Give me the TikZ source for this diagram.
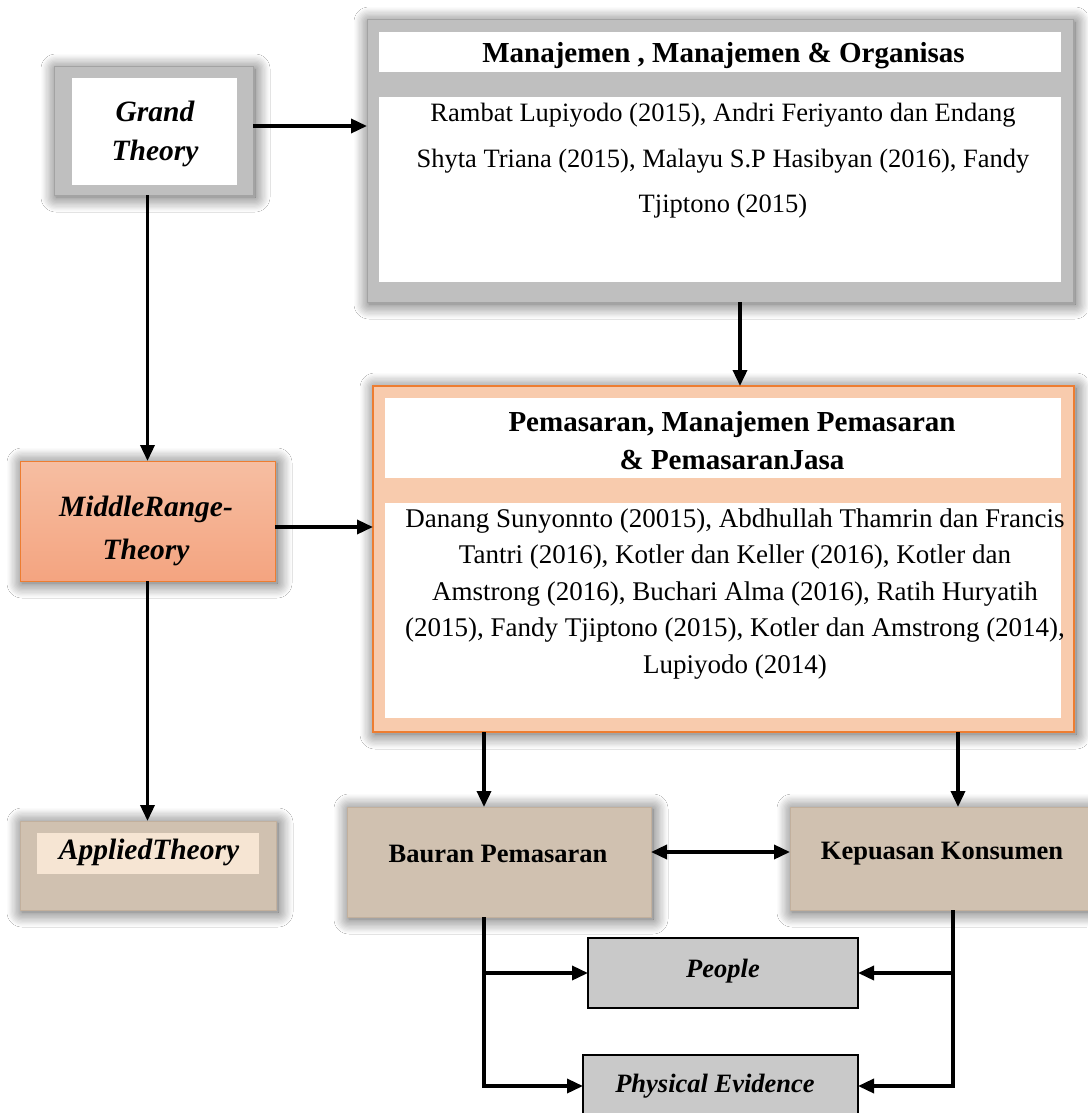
\documentclass[tikz,border=0pt]{standalone}
\usepackage{fontspec}
\setmainfont{Liberation Serif}
\usetikzlibrary{arrows.meta,shadows.blur,calc}
\definecolor{frame}{HTML}{BFBFBF}
\definecolor{framedraw}{HTML}{A3A3A3}
\definecolor{orfill}{HTML}{F8CBAD}
\definecolor{ordraw}{HTML}{ED7D31}
\definecolor{mrtop}{HTML}{F6BEA2}
\definecolor{mrbot}{HTML}{F4A480}
\definecolor{tan}{HTML}{D0C1B0}
\definecolor{tandraw}{HTML}{C2B09D}
\definecolor{cream}{HTML}{F6E5D3}
\definecolor{pgray}{HTML}{C9C9C9}
\begin{document}
\begin{tikzpicture}[x=1pt,y=-1pt,
  glow/.style={blur shadow={shadow xshift=2pt,shadow yshift=-2pt,shadow blur radius=15pt,shadow opacity=70,shadow blur steps=12}},
  box/.style={inner sep=0pt,outer sep=0pt},
  grayframe/.style={box,fill=frame,draw=framedraw,line width=1pt,glow},
  whitebox/.style={box,fill=white},
  orbox/.style={box,fill=orfill,draw=ordraw,line width=2.5pt,glow},
  mrbox/.style={box,top color=mrtop,bottom color=mrbot,draw=ordraw,line width=1pt,glow},
  tanbox/.style={box,fill=tan,draw=tandraw,line width=1pt,glow},
  creambox/.style={box,fill=cream},
  pbox/.style={box,fill=pgray,draw=black,line width=2.5pt},
  hdr/.style={font=\fontsize{29}{38}\selectfont\bfseries,align=center},
  body/.style={font=\fontsize{26.5}{45.5}\selectfont,align=center},
  bodym/.style={font=\fontsize{27}{36.5}\selectfont,align=center},
  theo/.style={font=\fontsize{29.5}{39}\selectfont\bfseries\itshape,align=center},
  lbl/.style={font=\fontsize{26.5}{32}\selectfont\bfseries,align=center},
  lbli/.style={font=\fontsize{26.5}{32}\selectfont\bfseries\itshape,align=center},
  conn/.style={line width=3.5pt,line join=miter,-{Triangle[length=16pt,width=14pt]}},
  dconn/.style={line width=3.5pt,{Triangle[length=16pt,width=14pt]}-{Triangle[length=16pt,width=14pt]}}
]
\useasboundingbox (0,0) rectangle (1087,1113);
\fill[white] (0,0) rectangle (1087,1113);

% Grand theory
\node[grayframe,minimum width=199pt,minimum height=128pt] (grand) at (153.5,131) {};
\node[whitebox,minimum width=165pt,minimum height=107pt] (grandin) at (154.5,131.5) {};
\node[theo] (grandtxt) at (155,133.5) {Grand\\Theory};

% Top box
\node[grayframe,minimum width=706pt,minimum height=282pt] (top) at (720,161) {};
\node[whitebox,minimum width=682pt,minimum height=40pt] (tophdr) at (720,52) {};
\node[hdr] (tophdrtxt) at (723.5,56) {Manajemen , Manajemen \& Organisas};
\node[whitebox,minimum width=682pt,minimum height=185pt] (topbody) at (720,189.5) {};
\node[body] (topbodytxt) at (723,161) {Rambat Lupiyodo (2015), Andri Feriyanto dan Endang\\Shyta Triana (2015), Malayu S.P Hasibyan (2016), Fandy\\Tjiptono (2015)};

% Middle range theory
\node[mrbox,minimum width=255pt,minimum height=120pt] (mr) at (147.5,521) {};
\node[theo,font=\fontsize{29.5}{43}\selectfont\bfseries\itshape] (mrtxt) at (146,530.5) {MiddleRange-\\Theory};

% Middle box
\node[orbox,minimum width=701pt,minimum height=346pt] (mid) at (723.5,559) {};
\node[whitebox,minimum width=676pt,minimum height=80pt] (midhdr) at (723,438) {};
\node[hdr] (midhdrtxt) at (732,440.5) {Pemasaran, Manajemen Pemasaran\\\& PemasaranJasa};
\node[whitebox,minimum width=676pt,minimum height=215pt] (midbody) at (723,610.5) {};
\node[bodym] (midbodytxt) at (735,594) {Danang Sunyonnto (20015), Abdhullah Thamrin dan Francis\\Tantri (2016), Kotler dan Keller (2016), Kotler dan\\Amstrong (2016), Buchari Alma (2016), Ratih Huryatih\\(2015), Fandy Tjiptono (2015), Kotler dan Amstrong (2014),\\Lupiyodo (2014)};

% Applied theory
\node[tanbox,minimum width=256pt,minimum height=89pt] (applied) at (148,865.5) {};
\node[creambox,minimum width=222pt,minimum height=41pt] (appliedin) at (148,853.5) {};
\node[theo] (appliedtxt) at (149,852.5) {AppliedTheory};

% Bauran & Kepuasan
\node[tanbox,minimum width=304pt,minimum height=110pt] (bauran) at (499,862) {};
\node[lbl] (baurantxt) at (498,854) {Bauran Pemasaran};
\node[tanbox,minimum width=304pt,minimum height=103pt] (kep) at (942,858.5) {};
\node[lbl] (keptxt) at (942,853.5) {Kepuasan Konsumen};

% People & Physical evidence
\node[pbox,minimum width=270pt,minimum height=70pt] (people) at (723,973) {};
\node[lbli] (peopletxt) at (723,971) {People};
\node[pbox,minimum width=275pt,minimum height=62pt] (pe) at (720.5,1086) {};
\node[lbli] (petxt) at (715,1086) {Physical Evidence};

% connectors
\draw[conn] ([yshift=5pt]grand.east) -- ([yshift=5pt]grand.east -| top.west);
\draw[conn] (mr.north |- grand.south) -- (mr.north);
\draw[conn] ([xshift=20pt]top.south) -- ([xshift=20pt]top.south |- mid.north);
\draw[conn] ([yshift=-6pt]mr.east) -- ([yshift=-6pt]mr.east -| mid.west);
\draw[conn] (mr.south) -- (mr.south |- applied.north);
\draw[conn] ([xshift=-15pt]bauran.north |- mid.south) -- ([xshift=-15pt]bauran.north);
\draw[conn] ([xshift=16pt]kep.north |- mid.south) -- ([xshift=16pt]kep.north);
\draw[dconn] ([yshift=10pt]bauran.east) -- ([yshift=10pt]bauran.east -| kep.west);
\draw[conn] ([xshift=-15pt]bauran.south) |- (pe.west);
\draw[conn] ([xshift=-15pt]bauran.south |- people.west) -- (people.west);
\draw[conn] ([xshift=11pt]kep.south) |- (pe.east);
\draw[conn] ([xshift=11pt]kep.south |- people.east) -- (people.east);
\end{tikzpicture}
\end{document}
